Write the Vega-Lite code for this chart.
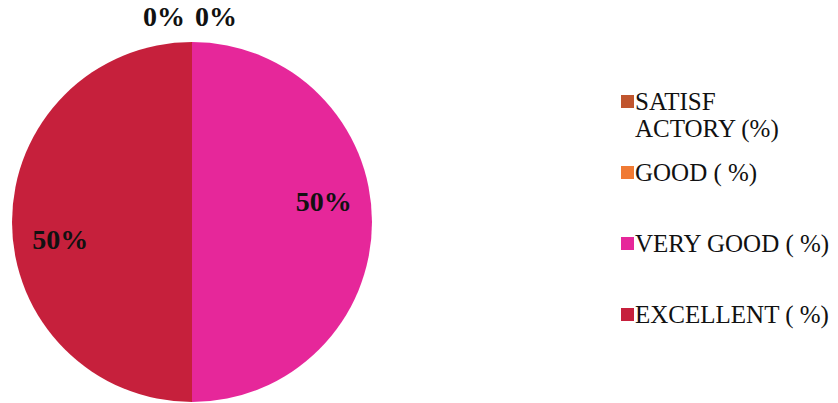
{
  "$schema": "https://vega.github.io/schema/vega-lite/v6.json",
  "autosize": {"type": "none"},
  "width": 360,
  "height": 360,
  "padding": {"left": 12, "top": 42, "right": 466, "bottom": 1},
  "background": "white",
  "config": {"view": {"stroke": null}, "font": "Liberation Serif"},
  "data": {
    "values": [
      {"category": "SATISFACTORY (%)", "share": 0, "rank": 1},
      {"category": "GOOD ( %)", "share": 0, "rank": 2},
      {"category": "VERY GOOD ( %)", "share": 0.5, "rank": 3},
      {"category": "EXCELLENT ( %)", "share": 0.5, "rank": 4}
    ]
  },
  "encoding": {
    "theta": {"field": "share", "type": "quantitative", "stack": true},
    "order": {"field": "rank", "type": "quantitative"}
  },
  "layer": [
    {
      "mark": {"type": "arc", "radius": 180, "strokeWidth": 0},
      "encoding": {
        "color": {
          "field": "category",
          "type": "nominal",
          "sort": null,
          "scale": {
            "domain": ["SATISFACTORY (%)", "GOOD ( %)", "VERY GOOD ( %)", "EXCELLENT ( %)"],
            "range": ["#c0552e", "#f07a34", "#e6279a", "#c6203c"]
          },
          "legend": {
            "title": null,
            "orient": "none",
            "legendX": 603,
            "legendY": 47,
            "symbolType": "square",
            "symbolSize": 169,
            "symbolStrokeWidth": 0,
            "labelFont": "Liberation Serif",
            "labelFontSize": 25,
            "labelColor": "#111111",
            "labelLimit": 0,
            "labelOffset": -5,
            "gridAlign": "all",
            "rowPadding": 18,
            "labelExpr": "datum.label == 'SATISFACTORY (%)' ? ['SATISF', 'ACTORY (%)'] : datum.label"
          }
        }
      }
    },
    {
      "transform": [{"filter": "datum.share > 0"}],
      "mark": {"type": "text", "radius": 133, "thetaOffset": -0.14, "fontSize": 28, "fontWeight": "bold", "font": "Liberation Serif", "color": "#111111"},
      "encoding": {"text": {"field": "share", "type": "quantitative", "format": ".0%"}}
    },
    {
      "transform": [{"filter": "datum.category == 'SATISFACTORY (%)'"}],
      "mark": {"type": "text", "radius": 204, "dx": -28, "fontSize": 28, "fontWeight": "bold", "font": "Liberation Serif", "color": "#111111"},
      "encoding": {"text": {"field": "share", "type": "quantitative", "format": ".0%"}}
    },
    {
      "transform": [{"filter": "datum.category == 'GOOD ( %)'"}],
      "mark": {"type": "text", "radius": 204, "dx": 24, "fontSize": 28, "fontWeight": "bold", "font": "Liberation Serif", "color": "#111111"},
      "encoding": {"text": {"field": "share", "type": "quantitative", "format": ".0%"}}
    }
  ]
}
